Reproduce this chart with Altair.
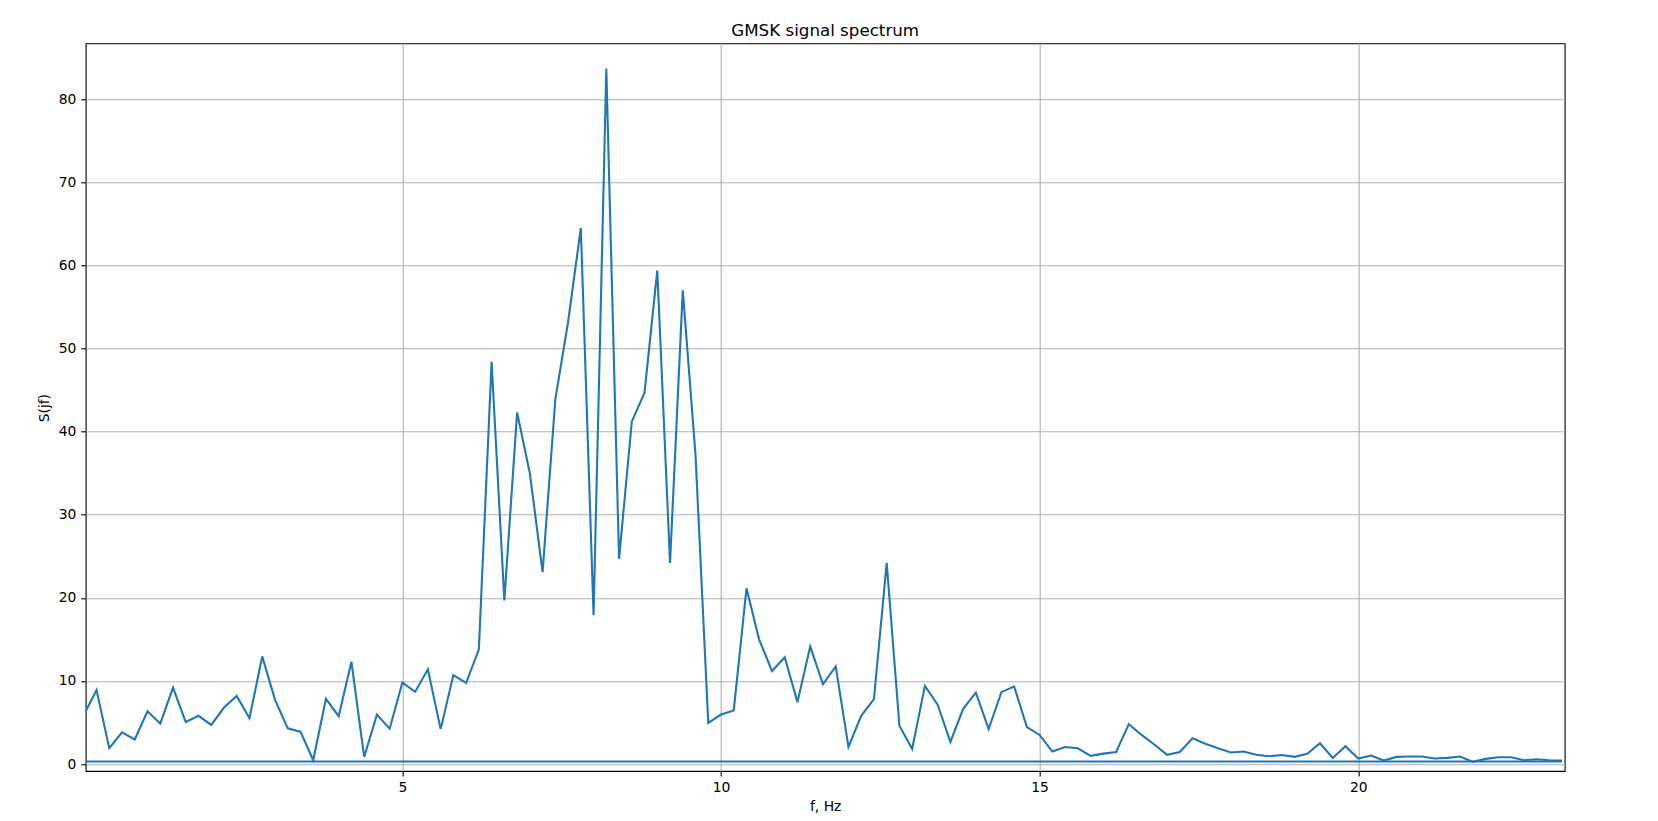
import altair as alt
import pandas as pd

# Frequency bins (Hz)
freqs = [0.0, 0.2, 0.4, 0.6, 0.8, 1.0, 1.2, 1.4, 1.6, 1.8,
         2.0, 2.2, 2.4, 2.6, 2.8, 3.0, 3.2, 3.4, 3.6, 3.8,
         4.0, 4.2, 4.4, 4.6, 4.8, 5.0, 5.2, 5.4, 5.6, 5.8,
         6.0, 6.2, 6.4, 6.6, 6.8, 7.0, 7.2, 7.4, 7.6, 7.8,
         8.0, 8.2, 8.4, 8.6, 8.8, 9.0, 9.2, 9.4, 9.6, 9.8,
         10.0, 10.2, 10.4, 10.6, 10.8, 11.0, 11.2, 11.4, 11.6, 11.8,
         12.0, 12.2, 12.4, 12.6, 12.8, 13.0, 13.2, 13.4, 13.6, 13.8,
         14.0, 14.2, 14.4, 14.6, 14.8, 15.0, 15.2, 15.4, 15.6, 15.8,
         16.0, 16.2, 16.4, 16.6, 16.8, 17.0, 17.2, 17.4, 17.6, 17.8,
         18.0, 18.2, 18.4, 18.6, 18.8, 19.0, 19.2, 19.4, 19.6, 19.8,
         20.0, 20.2, 20.4, 20.6, 20.8, 21.0, 21.2, 21.4, 21.6, 21.8,
         22.0, 22.2, 22.4, 22.6, 22.8, 23.0, 23.2]

# Spectrum magnitude S(jf)
spectrum = [5.9, 8.9, 1.9, 3.8, 2.95, 6.35, 4.85, 9.2, 5.05, 5.8,
            4.7, 6.8, 8.2, 5.5, 12.95, 7.75, 4.3, 3.9, 0.45, 7.85,
            5.75, 12.3, 0.85, 5.95, 4.25, 9.8, 8.7, 11.4, 4.2, 10.7,
            9.75, 13.8, 48.4, 19.7, 42.3, 35.0, 23.1, 43.9, 53.2, 64.5,
            17.9, 83.7, 24.7, 41.2, 44.7, 59.4, 24.2, 57.0, 37.2, 4.95,
            5.95, 6.45, 21.15, 14.95, 11.2, 12.85, 7.45, 14.15, 9.6, 11.75,
            2.05, 5.8, 7.8, 24.2, 4.6, 1.8, 9.4, 7.15, 2.65, 6.65,
            8.6, 4.2, 8.65, 9.35, 4.45, 3.5, 1.5, 2.05, 1.9, 0.98,
            1.25, 1.45, 4.8, 3.5, 2.35, 1.1, 1.45, 3.1, 2.45, 1.9,
            1.38, 1.5, 1.12, 0.94, 1.08, 0.86, 1.23, 2.5, 0.72, 2.14,
            0.66, 1.02, 0.42, 0.86, 0.9, 0.9, 0.66, 0.74, 0.9, 0.26,
            0.62, 0.82, 0.82, 0.46, 0.58, 0.46, 0.42]

# Flat trace across the whole band
flat_f = [0.0, 23.2]
flat_s = [0.3, 0.3]

chart_title = ["GMSK signal spectrum"]
overlay_text = ["GPU Util"]

df = pd.DataFrame({"f": freqs, "S": spectrum})
flat_df = pd.DataFrame({"f": flat_f, "S": flat_s})
title_df = pd.DataFrame({"t": chart_title})
txt_df = pd.DataFrame({"t": overlay_text})

W = 1479
H = 727.7
FONT = "DejaVu Sans"
BLUE = "#1f77b4"

xscale = alt.Scale(domain=[0.03, 23.24], nice=False, zero=False)
yscale = alt.Scale(domain=[-0.84, 86.74], nice=False, zero=False)

xaxis = alt.Axis(values=[5, 10, 15, 20], format="d", title="f, Hz",
                 titleX=W / 2, titleY=36, titleAlign="center",
                 titleBaseline="middle", labelPadding=4.5)
yaxis = alt.Axis(values=[0, 10, 20, 30, 40, 50, 60, 70, 80], format="d",
                 title="S(jf)", titleX=-41.2, titleY=H / 2 + 0.5,
                 titleAngle=270, titleAlign="center", titleBaseline="middle",
                 labelPadding=4.8)

line = alt.Chart(df).mark_line(color=BLUE, strokeWidth=2.1, clip=True).encode(
    x=alt.X("f:Q", scale=xscale, axis=xaxis),
    y=alt.Y("S:Q", scale=yscale, axis=yaxis),
)

flat = alt.Chart(flat_df).mark_line(color=BLUE, strokeWidth=2.1, clip=True).encode(
    x=alt.X("f:Q", scale=xscale),
    y=alt.Y("S:Q", scale=yscale),
)

title = alt.Chart(title_df).mark_text(
    color="black", font=FONT, fontSize=16.7, align="center", baseline="alphabetic"
).encode(
    text="t:N",
    x=alt.value(W / 2),
    y=alt.value(-7.3),
)

gpu = alt.Chart(txt_df).mark_text(
    color="#7dc11f", font="Roboto", fontSize=15, align="left", baseline="alphabetic"
).encode(
    text="t:N",
    x=alt.value(1472),
    y=alt.value(-38.3),
)

chart = alt.layer(line, flat, title, gpu).properties(
    width=W,
    height=H,
    background="white",
    autosize=alt.AutoSizeParams(type="none"),
    padding={"left": 77.7, "top": 35.3, "right": 70, "bottom": 42},
).configure_view(
    stroke="black", strokeWidth=1.1
).configure_axis(
    domain=False,
    grid=True,
    gridColor="#b0b0b0",
    gridWidth=1.1,
    tickColor="black",
    tickSize=5,
    tickWidth=1.1,
    labelFont=FONT,
    labelFontSize=13.9,
    labelColor="black",
    titleFont=FONT,
    titleFontSize=13.9,
    titleFontWeight="normal",
    titleColor="black",
)

chart.save("out.html", embed_options={"renderer": "svg", "actions": False})
